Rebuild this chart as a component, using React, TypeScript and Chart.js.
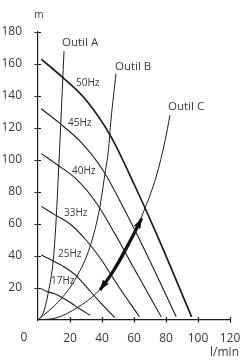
import React, { useEffect, useRef } from 'react';
import { Chart, registerables } from 'chart.js';

Chart.register(...registerables);

// Pump curves (flow l/min, head m)
const q50 = [2, 15, 30, 45.6, 60, 74, 96];
const h50 = [163, 152, 137.5, 114.6, 85, 54, 2];
const q45 = [2, 13.5, 27, 41, 54, 66.5, 86.4];
const h45 = [132, 123, 111, 93, 69, 44, 2];
const q40 = [2, 12, 24, 36.6, 48, 59, 77];
const h40 = [104, 97, 88, 73, 54, 34, 2];
const q33 = [2, 10, 20, 30, 40, 49, 63.4];
const h33 = [71, 66, 60, 50, 37, 23, 2];
const q25 = [2, 7.5, 15, 23, 30, 37, 48];
const h25 = [40.6, 38, 34, 28.5, 21, 13, 1.5];
const q17 = [2, 5, 10, 16, 21, 26, 32.5];
const h17 = [19.5, 18, 16.5, 13.5, 10.5, 7, 3];

// System curves
const qA = [0, 3.3, 6.4, 9.6, 11.3, 12.7, 14.2, 16.25];
const hA = [0, 4.5, 17, 38, 62, 90, 122, 168];
const qB = [0, 13.75, 24.2, 32.5, 38.3, 41.9, 44, 45.6, 48.75];
const hB = [0, 12.5, 27, 45.8, 68.75, 91.7, 106, 125, 154];
const qC = [0, 12, 25, 36.7, 50, 58, 66.9, 74, 79.4, 82.5];
const hC = [0, 1.5, 8, 17, 34, 49, 70, 90, 112, 128];

// Operating range arrow
const qArrow = [38.75, 46, 53, 59, 64.8];
const hArrow = [18.75, 29, 41, 52, 63.5];

const pumpLabels = ['50Hz', '45Hz', '40Hz', '33Hz', '25Hz', '17Hz'];
const pumpLabelQ = [23.75, 18.75, 21.25, 16.25, 12.5, 8.1];
const pumpLabelH = [148, 123.3, 93.3, 66.9, 41.25, 24];

const sysLabels = ['Outil A', 'Outil B', 'Outil C'];
const sysLabelQ = [15, 48.1, 81.25];
const sysLabelH = [173, 158, 133];

const xTicks = [0, 20, 40, 60, 80, 100, 120];
const yTicks = [0, 20, 40, 60, 80, 100, 120, 140, 160, 180];
const xUnit = 'l/min';
const yUnit = 'm';

const FONT = '"Open Sans", "DejaVu Sans", sans-serif';
const LINE = '#1c1c1c';
const TEXT = '#3a3a3a';

const pts = (qs: number[], hs: number[]) => qs.map((q, i) => ({ x: q, y: hs[i] }));

const overlay = {
  id: 'overlay',
  afterDatasetsDraw(chart: any) {
    const ctx = chart.ctx;
    const xs = chart.scales.x;
    const ys = chart.scales.y;
    const x0 = xs.getPixelForValue(0);
    const y0 = ys.getPixelForValue(0);
    ctx.save();
    ctx.strokeStyle = LINE;
    ctx.lineWidth = 1.2;
    ctx.beginPath();
    yTicks.forEach((v) => {
      if (v === 0) return;
      const py = Math.round(ys.getPixelForValue(v)) + 0.5;
      ctx.moveTo(x0 - 3.5, py);
      ctx.lineTo(x0 + 3, py);
    });
    xTicks.forEach((v) => {
      if (v === 0) return;
      const px = Math.round(xs.getPixelForValue(v)) + 0.5;
      ctx.moveTo(px, y0 - 3);
      ctx.lineTo(px, y0 + 2.5);
    });
    ctx.stroke();

    const drawHead = (tip: any, from: any) => {
      const ang = Math.atan2(tip.y - from.y, tip.x - from.x);
      const len = 10;
      const hw = 3.6;
      ctx.beginPath();
      ctx.moveTo(tip.x, tip.y);
      ctx.lineTo(tip.x - len * Math.cos(ang) + hw * Math.sin(ang), tip.y - len * Math.sin(ang) - hw * Math.cos(ang));
      ctx.lineTo(tip.x - len * Math.cos(ang) - hw * Math.sin(ang), tip.y - len * Math.sin(ang) + hw * Math.cos(ang));
      ctx.closePath();
      ctx.fillStyle = '#111';
      ctx.fill();
    };
    const n = qArrow.length;
    const P = (i: number) => ({ x: xs.getPixelForValue(qArrow[i]), y: ys.getPixelForValue(hArrow[i]) });
    drawHead(P(n - 1), P(n - 2));
    drawHead(P(0), P(1));

    ctx.fillStyle = TEXT;
    ctx.textBaseline = 'middle';
    ctx.textAlign = 'left';
    ctx.font = `10px ${FONT}`;
    pumpLabels.forEach((t, i) => {
      ctx.fillText(t, xs.getPixelForValue(pumpLabelQ[i]), ys.getPixelForValue(pumpLabelH[i]));
    });
    ctx.font = `11.5px ${FONT}`;
    sysLabels.forEach((t, i) => {
      ctx.fillText(t, xs.getPixelForValue(sysLabelQ[i]), ys.getPixelForValue(sysLabelH[i]));
    });

    ctx.textAlign = 'center';
    ctx.font = `10px ${FONT}`;
    ctx.fillText(yUnit, x0 + 1, 15);
    ctx.font = `12px ${FONT}`;
    ctx.textAlign = 'right';
    ctx.fillText(xUnit, chart.width - 4, 353);
    ctx.textAlign = 'center';
    ctx.fillText('0', x0 - 14, 338);
    ctx.restore();
  },
};

export default function App() {
  const ref = useRef<HTMLCanvasElement | null>(null);
  useEffect(() => {
    document.body.style.margin = '0';
    if (!ref.current) return;
    const thin = { showLine: true, pointRadius: 0, borderColor: LINE, borderWidth: 1.1, cubicInterpolationMode: 'monotone' as const, fill: false };
    const chart = new Chart(ref.current, {
      type: 'scatter',
      data: {
        datasets: [
          { ...thin, data: pts(q50, h50), borderWidth: 1.7 },
          { ...thin, data: pts(q45, h45) },
          { ...thin, data: pts(q40, h40) },
          { ...thin, data: pts(q33, h33) },
          { ...thin, data: pts(q25, h25) },
          { ...thin, data: pts(q17, h17) },
          { ...thin, data: pts(qA, hA), borderWidth: 1 },
          { ...thin, data: pts(qB, hB), borderWidth: 1 },
          { ...thin, data: pts(qC, hC), borderWidth: 1 },
          { ...thin, data: pts(qArrow, hArrow), borderWidth: 3.2, borderColor: '#111', borderCapStyle: 'butt' },
        ] as any,
      },
      options: {
        animation: false,
        responsive: true,
        maintainAspectRatio: false,
        layout: { padding: { top: 32, right: 13, left: 0, bottom: 0 } },
        plugins: { legend: { display: false }, tooltip: { enabled: false } },
        scales: {
          x: {
            type: 'linear',
            min: xTicks[0],
            max: xTicks[xTicks.length - 1],
            afterFit: (s: any) => { s.height = 40; s.paddingLeft = 0; s.paddingRight = 0; },
            afterBuildTicks: (s: any) => { s.ticks = xTicks.map((v) => ({ value: v })); },
            grid: { display: false },
            border: { display: true, color: LINE, width: 1.2 },
            ticks: {
              padding: 3,
              color: TEXT,
              font: { family: FONT, size: 12 },
              maxRotation: 0,
              callback: (v: any) => (v === 0 ? '' : String(v)),
            },
          },
          y: {
            type: 'linear',
            min: yTicks[0],
            max: yTicks[yTicks.length - 1],
            afterFit: (s: any) => { s.width = 38; s.paddingTop = 0; s.paddingBottom = 0; },
            afterBuildTicks: (s: any) => { s.ticks = yTicks.map((v) => ({ value: v })); },
            grid: { display: false },
            border: { display: true, color: LINE, width: 1.2 },
            ticks: {
              padding: 8,
              color: TEXT,
              font: { family: FONT, size: 12 },
              callback: (v: any) => (v === 0 ? '' : String(v)),
            },
          },
        },
      },
      plugins: [overlay],
    });
    return () => chart.destroy();
  }, []);
  return (
    <div style={{ position: 'absolute', left: 0, top: 0, width: 243, height: 360 }}>
      <canvas ref={ref} />
    </div>
  );
}
